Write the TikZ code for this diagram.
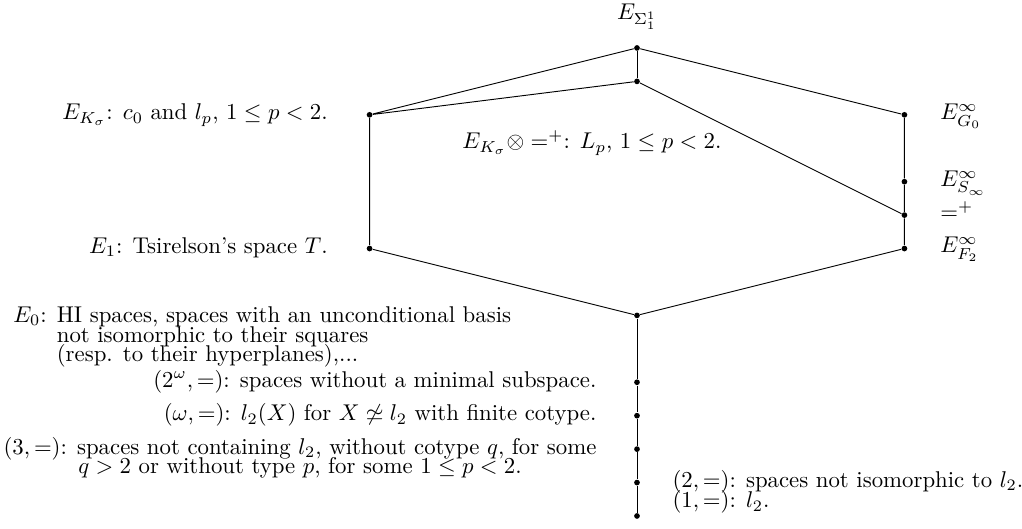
\documentclass[tikz,border=0pt]{standalone}
\usepackage{amsmath,amssymb}
\begin{document}
\begin{tikzpicture}[x=14.66pt, y=14.66pt,
    dot/.style={circle, fill, inner sep=0pt, minimum size=2.5pt},
    lbl/.style={inner sep=0pt}]
    \useasboundingbox (-19.055,-0.389) rectangle (11.517,15.435);

    \node[dot] (sig) at (0,14) {};
    \node[dot] (kot) at (0,13) {};
    \node[dot] (ks) at (-8,12) {};
    \node[dot] (eone) at (-8,8) {};
    \node[dot] (gz) at (8,12) {};
    \node[dot] (sinf) at (8,10) {};
    \node[dot] (eqp) at (8,9) {};
    \node[dot] (ftwo) at (8,8) {};
    \node[dot] (ez) at (0,6) {};
    \foreach \n/\y in {tom/4, om/3, three/2, two/1, one/0}
        \node[dot] (\n) at (0,\y) {};

    \draw (ks) -- (sig) -- (gz) -- (sinf) -- (eqp) -- (ftwo) -- (ez) -- (eone) -- (ks) -- (kot) -- (eqp);
    \draw (sig) -- (kot);
    \draw (ez) -- (tom) -- (om) -- (three) -- (two) -- (one);

    \node[lbl, anchor=base] (lsig) at (0,14.84) {$E_{\Sigma^1_1}$};
    \node[lbl, anchor=base east] (lks) at (-9.24,11.85)
        {$E_{K_\sigma}$: $c_0$ and $l_p$, $1\le p<2$.};
    \node[lbl, anchor=base west] (lkot) at (-5.235,10.98)
        {$E_{K_\sigma}\otimes=^+$: $L_p$, $1\le p<2$.};
    \node[lbl, anchor=base east] (leone) at (-9.24,7.85)
        {$E_1$: Tsirelson's space $T$.};

    \node[lbl, anchor=base west] (lgz) at (9.06,11.85) {$E^\infty_{G_0}$};
    \node[lbl, anchor=base west] (lsinf) at (9.06,9.85) {$E^\infty_{S_\infty}$};
    \node[lbl, anchor=base west] (leqp) at (9.06,8.87) {$=^+$};
    \node[lbl, anchor=base west] (lftwo) at (9.06,7.87) {$E^\infty_{F_2}$};

    \node[lbl, anchor=base west, align=left] (lez) at (-18.67,4.61)
        {$E_0$: HI spaces, spaces with an unconditional basis\\[-3.3pt]
         \hphantom{$E_0$: }not isomorphic to their squares\\[-3.3pt]
         \hphantom{$E_0$: }(resp. to their hyperplanes),...};
    \node[lbl, anchor=base east] (ltom) at (-1.2,3.85)
        {$(2^\omega,=)$: spaces without a minimal subspace.};
    \node[lbl, anchor=base east] (lom) at (-1.2,2.85)
        {$(\omega,=)$: $l_2(X)$ for $X\not\simeq l_2$ with finite cotype.};
    \node[lbl, anchor=base east, align=center] (lthree) at (-1.2,1.26)
        {$(3,=)$: spaces not containing $l_2$, without cotype $q$, for some\\[-3.3pt]
         $q>2$ or without type $p$, for some $1\le p<2$.};
    \node[lbl, anchor=base west] (ltwo) at (1.05,0.85)
        {$(2,=)$: spaces not isomorphic to $l_2$.};
    \node[lbl, anchor=base west] (lone) at (1.05,0.24) {$(1,=)$: $l_2$.};
\end{tikzpicture}
\end{document}
